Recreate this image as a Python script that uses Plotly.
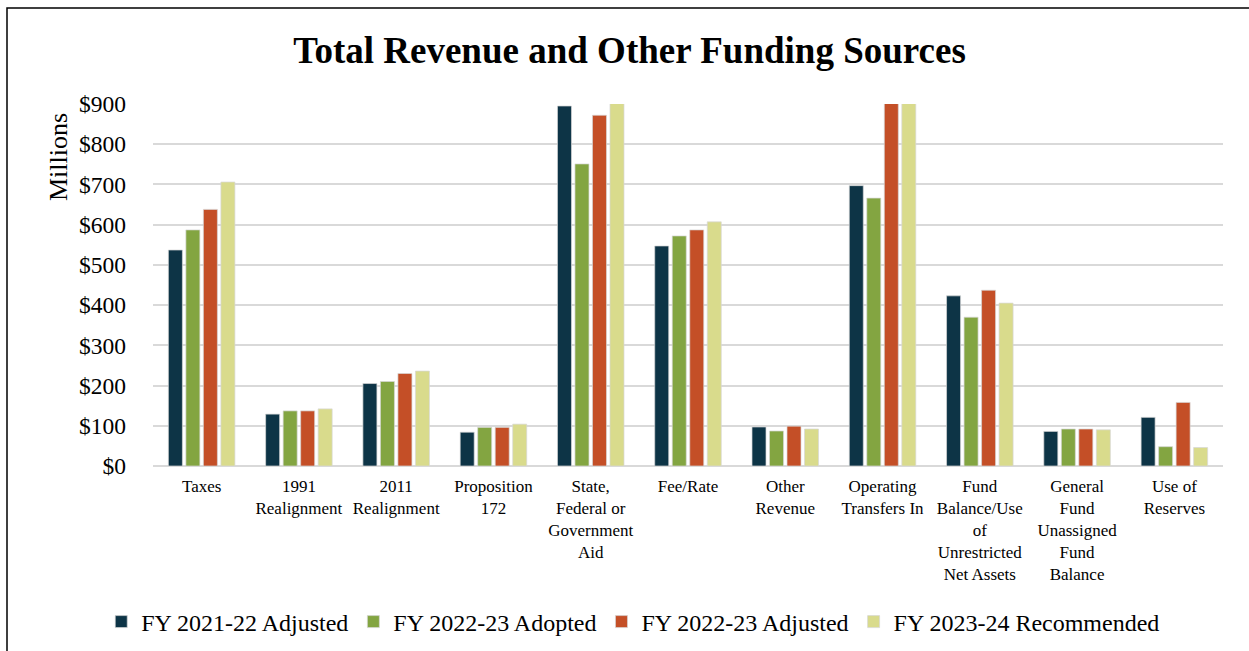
import plotly.graph_objects as go

categories = [
    "Taxes",
    "1991<br>Realignment",
    "2011<br>Realignment",
    "Proposition<br>172",
    "State,<br>Federal or<br>Government<br>Aid",
    "Fee/Rate",
    "Other<br>Revenue",
    "Operating<br>Transfers In",
    "Fund<br>Balance/Use<br>of<br>Unrestricted<br>Net Assets",
    "General<br>Fund<br>Unassigned<br>Fund<br>Balance",
    "Use of<br>Reserves",
]

fy2122_adjusted = [537, 129, 205, 84, 895, 547, 97, 697, 423, 86, 121]
fy2223_adopted = [587, 137, 210, 96, 751, 572, 87, 666, 370, 92, 48]
fy2223_adjusted = [638, 137, 230, 96, 872, 587, 99, 960, 437, 92, 158]
fy2324_recommended = [706, 142, 236, 104, 950, 607, 92, 985, 405, 90, 46]

series_names = ["FY 2021-22 Adjusted", "FY 2022-23 Adopted", "FY 2022-23 Adjusted", "FY 2023-24 Recommended"]
series_values = [fy2122_adjusted, fy2223_adopted, fy2223_adjusted, fy2324_recommended]
colors = ["#0d3446", "#83a541", "#c44f27", "#d9db8c"]

tick_vals = [0, 100, 200, 300, 400, 500, 600, 700, 800, 900]
tick_text = ["$0", "$100", "$200", "$300", "$400", "$500", "$600", "$700", "$800", "$900"]

FONT = "Liberation Serif"

fig = go.Figure()
for name, vals, col in zip(series_names, series_values, colors):
    fig.add_trace(go.Bar(
        x=categories, y=vals, name=name,
        marker=dict(color=col, line=dict(color="rgba(215,215,215,0.7)", width=1)),
    ))

W, H = 1249, 651
L, R, T, B = 153, 26, 104, 185
pw, ph = W - L - R, H - T - B

def px_x(x):
    return (x - L) / pw

def px_y(y):
    return (H - B - y) / ph

fig.add_shape(type="rect", xref="paper", yref="paper",
              x0=px_x(7), x1=px_x(1262), y0=px_y(664), y1=px_y(8),
              line=dict(color="black", width=1.5), fillcolor="rgba(0,0,0,0)", layer="above")

fig.add_annotation(text="Millions", xref="paper", yref="paper",
                   x=px_x(58), y=px_y(157), xanchor="center", yanchor="middle",
                   textangle=-90, showarrow=False,
                   font=dict(family=FONT, size=26, color="black"))

fig.update_layout(
    width=W, height=H,
    margin=dict(l=L, r=R, t=T, b=B, pad=0),
    paper_bgcolor="white", plot_bgcolor="white",
    font=dict(family=FONT, color="black"),
    title=dict(text="<b>Total Revenue and Other Funding Sources</b>",
               font=dict(family=FONT, size=37, color="black"),
               x=0.504, xref="container", xanchor="center",
               y=1 - 50 / H, yref="container", yanchor="middle"),
    barmode="group", bargap=0.28, bargroupgap=0.2,
    showlegend=True,
    legend=dict(orientation="h", xref="container", x=0.507, xanchor="center",
                yref="container", y=1 - 622 / H, yanchor="middle",
                font=dict(family=FONT, size=24, color="black"),
                itemwidth=30, tracegroupgap=0),
    xaxis=dict(showgrid=False, showline=False, ticks="",
               tickfont=dict(family=FONT, size=17, color="black"),
               tickangle=0, ticklabelstandoff=8),
    yaxis=dict(range=[0, 900], tickvals=tick_vals, ticktext=tick_text,
               showgrid=True, gridcolor="#d9d9d9", gridwidth=1.5,
               zeroline=True, zerolinecolor="#d9d9d9", zerolinewidth=1.5,
               showline=False, ticks="", ticklabelstandoff=26,
               tickfont=dict(family=FONT, size=23.5, color="black")),
)

fig.write_html("out.html", config={"displayModeBar": False},
               post_script="document.body.style.margin='0';document.body.style.overflow='hidden';")
